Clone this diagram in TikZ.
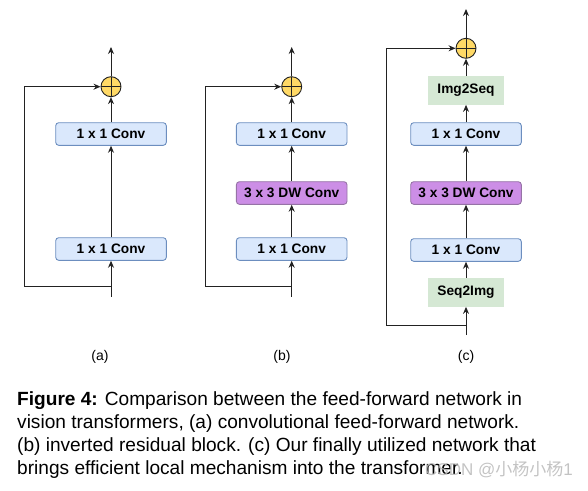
\documentclass[tikz,border=0pt]{standalone}
\usepackage{fontspec}
\setmainfont{Liberation Sans}
\newfontfamily\cjkfont{Noto Sans CJK SC}
\usetikzlibrary{arrows.meta}
\definecolor{bluefill}{HTML}{DAE8FC}
\definecolor{bluedraw}{HTML}{6C8EBF}
\definecolor{purpfill}{HTML}{CC8EE6}
\definecolor{purpdraw}{HTML}{9673A6}
\definecolor{greenfill}{HTML}{D5E8D4}
\definecolor{plusfill}{HTML}{FFD966}
\definecolor{linecol}{HTML}{222222}
\tikzset{
  conv/.style={draw=bluedraw, fill=bluefill, rounded corners=3pt, line width=0.9pt,
    minimum width=110.6pt, minimum height=22.6pt, inner sep=0pt,
    font=\fontsize{13.7}{15}\selectfont\bfseries},
  dwconv/.style={conv, draw=purpdraw, fill=purpfill},
  seqbox/.style={fill=greenfill, minimum width=76.6pt, minimum height=28.7pt, inner sep=0pt,
    font=\fontsize{13.7}{15}\selectfont\bfseries},
  plusnode/.style={circle, draw=linecol, fill=plusfill, line width=0.9pt, minimum size=20pt, inner sep=0pt,
    path picture={\draw[linecol, line width=0.8pt] (path picture bounding box.north) -- (path picture bounding box.south)
      (path picture bounding box.west) -- (path picture bounding box.east);}},
  arr/.style={draw=linecol, line width=1.0pt, -{Stealth[length=7pt,width=6pt]}},
  sublabel/.style={font=\fontsize{14}{16}\selectfont},
}
\begin{document}
\begin{tikzpicture}[x=1pt,y=-1pt]
\useasboundingbox (0,0) rectangle (588,490);
% ---------- panel (a)
\node[plusnode] (pa) at (111,86.7) {};
\node[conv] (c2a) at (111,134) {1 x 1 Conv};
\node[conv] (c1a) at (111,249) {1 x 1 Conv};
\coordinate (ina) at (111,296.7);
\coordinate (ja) at (111,286.7);
\coordinate (la) at (24.3,286.7);
\coordinate (topa) at (111,47);
\draw[arr] (ina) -- (c1a);
\draw[arr] (c1a) -- (c2a);
\draw[arr] (c2a) -- (pa);
\draw[arr] (pa) -- (topa);
\draw[arr] (ja) -- (la) |- (pa.west);
\node[sublabel] (lba) at (100,357) {(a)};
% ---------- panel (b)
\node[plusnode] (pb) at (291.7,86.7) {};
\node[conv] (c2b) at (291.7,134) {1 x 1 Conv};
\node[dwconv] (dwb) at (291.7,193) {3 x 3 DW Conv};
\node[conv] (c1b) at (291.7,249) {1 x 1 Conv};
\coordinate (inb) at (291.7,296.7);
\coordinate (jb) at (291.7,286.7);
\coordinate (lb) at (205.7,286.7);
\coordinate (topb) at (291.7,47);
\draw[arr] (inb) -- (c1b);
\draw[arr] (c1b) -- (dwb);
\draw[arr] (dwb) -- (c2b);
\draw[arr] (c2b) -- (pb);
\draw[arr] (pb) -- (topb);
\draw[arr] (jb) -- (lb) |- (pb.west);
\node[sublabel] (lbb) at (282,357) {(b)};
% ---------- panel (c)
\node[plusnode] (pc) at (466,48.3) {};
\node[seqbox] (i2s) at (466,90.3) {Img2Seq};
\node[conv] (c2c) at (466,134) {1 x 1 Conv};
\node[dwconv] (dwc) at (466,193) {3 x 3 DW Conv};
\node[conv] (c1c) at (466,250) {1 x 1 Conv};
\node[seqbox] (s2i) at (466,292.3) {Seq2Img};
\coordinate (inc) at (466,335);
\coordinate (jc) at (466,325);
\coordinate (lc) at (386.7,325);
\coordinate (topc) at (466,9);
\draw[arr] (inc) -- (s2i);
\draw[arr] (s2i) -- (c1c);
\draw[arr] (c1c) -- (dwc);
\draw[arr] (dwc) -- (c2c);
\draw[arr] (c2c) -- (i2s);
\draw[arr] (i2s) -- (pc);
\draw[arr] (pc) -- (topc);
\draw[arr] (jc) -- (lc) |- (pc.west);
\node[sublabel] (lbc) at (466,357) {(c)};
% ---------- caption
\node[anchor=north west, align=left, inner sep=0pt, font=\fontsize{19.1}{23.3}\selectfont] (cap) at (17,391)
{\textbf{Figure 4:} Comparison between the feed-forward network in\\
vision transformers, (a) convolutional feed-forward network.\\
(b) inverted residual block. (c) Our finally utilized network that\\
brings efficient local mechanism into the transformer.};
\node[anchor=east, inner sep=0pt, text=gray!55, opacity=0.85, font=\fontsize{17}{19}\selectfont] (wm) at (573,470)
{CSDN @{\cjkfont 小杨小杨}1};
\end{tikzpicture}
\end{document}
